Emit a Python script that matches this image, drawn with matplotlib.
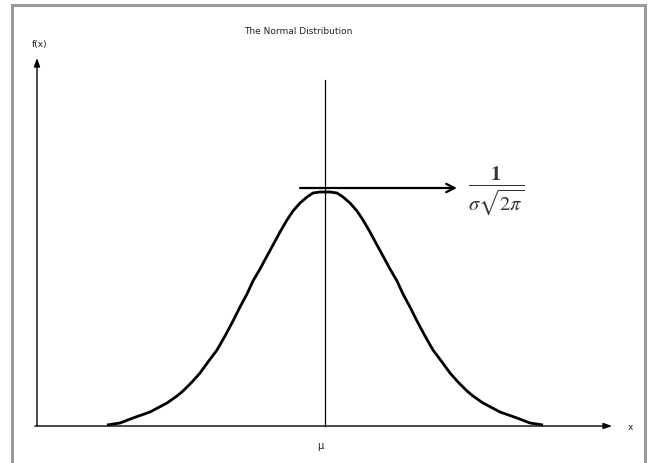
import matplotlib
matplotlib.use("Agg")
import matplotlib.pyplot as plt

# Curve: offset from mu (px units) and height above the x-axis
left_dx = [-218, -205, -192, -175, -158, -148, -142, -133, -125, -117, -108, -100,
           -92, -85, -78, -72, -65, -58, -52, -45, -38, -32, -25, -18, -12, -5, 0]
left_h = [1, 3, 8, 14, 23, 30, 35, 44, 53, 64, 76, 90,
          105, 119, 132, 145, 157, 170, 181, 194, 206, 215, 223, 229, 233, 234, 234]

title = "The Normal Distribution"
ylabel = "f(x)"
xlabel = "x"
mu_label = "\u03bc"
peak_label = r"$\frac{\mathbf{1}}{\sigma\sqrt{2\pi}}$"

curve_x = left_dx + [-v for v in left_dx[-2::-1]]
curve_y = left_h + left_h[-2::-1]

plt.rcParams['mathtext.fontset'] = 'stix'
fig = plt.figure(figsize=(6.55, 4.63), dpi=100)
ax = fig.add_axes([0, 0, 1, 1])
ax.set_xlim(-325, 330)
ax.set_ylim(-37, 426)
ax.axis('off')

# frame
ax.plot([-313, -313, 320, 320], [-60, 421, 421, -60], color='#9a9a9a', lw=2.2,
        solid_joinstyle='miter', clip_on=False)

# axes with arrowheads
ax.annotate('', xy=(287, 0), xytext=(-290, 0),
            arrowprops=dict(arrowstyle='-|>,head_length=0.5,head_width=0.18', color='black', lw=1.0,
                            shrinkA=0, shrinkB=0))
ax.annotate('', xy=(-288, 368), xytext=(-288, 0),
            arrowprops=dict(arrowstyle='-|>,head_length=0.5,head_width=0.18', color='black', lw=1.0,
                            shrinkA=0, shrinkB=0))

# vertical mean line
ax.plot([0, 0], [0, 346], color='black', lw=0.9)

# curve
ax.plot(curve_x, curve_y, color='black', lw=2.0, solid_capstyle='butt', solid_joinstyle='round')

# horizontal arrow at peak
ax.annotate('', xy=(132, 238), xytext=(-25, 238),
            arrowprops=dict(arrowstyle='->,head_length=0.6,head_width=0.3', color='black', lw=1.6,
                            shrinkA=0, shrinkB=0))

# texts
ax.text(-27, 395, title, ha='center', va='center', fontsize=6.5, color='#222222')
ax.text(-285, 382, ylabel, ha='center', va='center', fontsize=6.5, color='#222222')
ax.text(305, -2, xlabel, ha='center', va='center', fontsize=6.5, color='#222222')
ax.text(-5, -20, mu_label, ha='center', va='center', fontsize=7, color='#222222')
ax.text(171, 235, peak_label, ha='center', va='center', fontsize=21, color='#333333')

fig.savefig("out.png", dpi=100)
